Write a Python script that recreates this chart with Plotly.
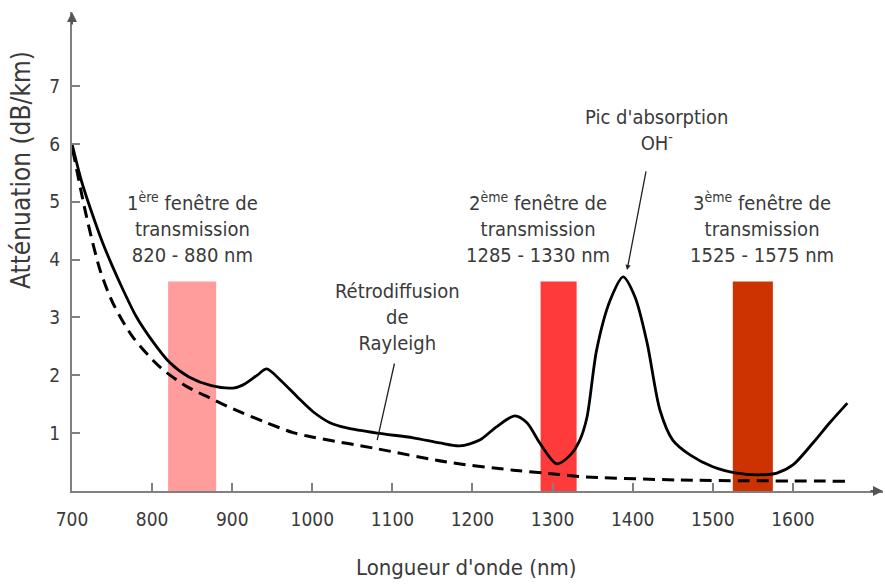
import plotly.graph_objects as go

# ---- data ----
wl_total = [700, 712, 725, 738, 750, 763, 780, 800, 822, 846, 874, 901, 913, 931, 943, 960, 981,
            1001, 1022, 1043, 1081, 1126, 1159, 1184, 1209, 1230, 1253, 1268, 1284, 1305,
            1322, 1334, 1343, 1355, 1372, 1388, 1403, 1418, 1434, 1450, 1472, 1500, 1530,
            1555, 1580, 1600, 1625, 1646, 1668]
att_total = [6.00, 5.35, 4.80, 4.30, 3.90, 3.50, 3.02, 2.60, 2.22, 1.97, 1.82, 1.78, 1.83, 2.00, 2.11, 1.92, 1.63,
             1.37, 1.18, 1.09, 1.00, 0.92, 0.83, 0.78, 0.88, 1.11, 1.30, 1.18, 0.83, 0.47,
             0.62, 0.88, 1.28, 2.44, 3.30, 3.70, 3.35, 2.56, 1.40, 0.88, 0.62, 0.42, 0.31,
             0.28, 0.31, 0.45, 0.83, 1.18, 1.52]

wl_rayleigh = [701, 718, 735, 751, 776, 810, 844, 872, 901, 943, 976, 1001, 1081, 1168, 1251, 1305, 1334, 1459, 1665]
att_rayleigh = [5.89, 4.75, 3.82, 3.25, 2.66, 2.14, 1.80, 1.61, 1.42, 1.18, 1.01, 0.93, 0.73, 0.50, 0.36, 0.29, 0.25, 0.19, 0.17]

window_start = [820, 1285, 1525]
window_end = [880, 1330, 1575]
window_height = 3.62
window_colors = ["#FF9C9C", "#FF3A3A", "#CC3300"]
window_labels = [
    "1<sup>ère</sup> fenêtre de<br>transmission<br>820 - 880 nm",
    "2<sup>ème</sup> fenêtre de<br>transmission<br>1285 - 1330 nm",
    "3<sup>ème</sup> fenêtre de<br>transmission<br>1525 - 1575 nm",
]
window_label_x = [851, 1282, 1561]

x_ticks = [700, 800, 900, 1000, 1100, 1200, 1300, 1400, 1500, 1600]
y_ticks = [1, 2, 3, 4, 5, 6, 7]

FONT = "DejaVu Sans Condensed, Liberation Sans Narrow, DejaVu Sans, sans-serif"
TXT = "#3a3a3a"
AXC = "#808080"

L, R, T, B = 72, 2, 12, 94
W, H = 885, 585
pw, ph = W - L - R, H - T - B


def px_x(p):
    return (p - L) / pw


def px_y(p):
    return (H - B - p) / ph


fig = go.Figure()
fig.add_trace(go.Scatter(x=wl_rayleigh, y=att_rayleigh, mode="lines",
                         line=dict(color="black", width=3, dash="12px,7px", shape="spline", smoothing=0.8),
                         showlegend=False, hoverinfo="skip"))
fig.add_trace(go.Scatter(x=wl_total, y=att_total, mode="lines",
                         line=dict(color="black", width=2.8, shape="spline", smoothing=0.8),
                         showlegend=False, hoverinfo="skip"))

for x0, x1, c in zip(window_start, window_end, window_colors):
    fig.add_shape(type="rect", xref="x", yref="y", x0=x0, x1=x1, y0=0, y1=window_height,
                  fillcolor=c, line=dict(width=0), layer="below")

for lab, lx in zip(window_labels, window_label_x):
    fig.add_annotation(x=lx, y=4.55, xref="x", yref="y", text=lab, showarrow=False,
                       font=dict(family=FONT, size=20, color=TXT), align="center")

# Rayleigh label + leader
fig.add_annotation(x=1106, y=3.01, xref="x", yref="y", text="Rétrodiffusion<br>de<br>Rayleigh",
                   showarrow=False, font=dict(family=FONT, size=20, color=TXT), align="center")
fig.add_annotation(x=1081, y=0.88, ax=1103, ay=2.23, xref="x", yref="y", axref="x", ayref="y",
                   text="", showarrow=True, arrowhead=0, arrowwidth=1.3, arrowcolor="#222")

# OH peak label + arrow
fig.add_annotation(x=1430, y=6.24, xref="x", yref="y", text="Pic d'absorption<br>OH<sup>-</sup>",
                   showarrow=False, font=dict(family=FONT, size=20, color=TXT), align="center")
fig.add_annotation(x=1393, y=3.82, ax=1417, ay=5.55, xref="x", yref="y", axref="x", ayref="y",
                   text="", showarrow=True, arrowhead=2, arrowsize=0.8, arrowwidth=1.3, arrowcolor="#222")

# axis titles
fig.add_annotation(x=px_x(21), y=px_y(170), xref="paper", yref="paper", text="Atténuation (dB/km)",
                   xanchor="center", yanchor="middle",
                   showarrow=False, textangle=-90, font=dict(family=FONT, size=26, color=TXT))
fig.add_annotation(x=px_x(466), y=px_y(567), xref="paper", yref="paper", text="Longueur d'onde (nm)",
                   xanchor="center", yanchor="middle",
                   showarrow=False, font=dict(family=FONT, size=22, color=TXT))

# axis arrowheads
fig.add_annotation(x=0, y=1, xref="paper", yref="paper", ax=0, ay=14, text="", showarrow=True,
                   arrowhead=2, arrowsize=1, arrowwidth=2, arrowcolor="#555")
fig.add_annotation(x=1, y=0, xref="paper", yref="paper", ax=-14, ay=0, text="", showarrow=True,
                   arrowhead=2, arrowsize=1, arrowwidth=2, arrowcolor="#555")

fig.update_layout(
    width=W, height=H,
    margin=dict(l=L, r=R, t=T, b=B),
    plot_bgcolor="white", paper_bgcolor="white",
    xaxis=dict(range=[700, 1712.5], tickvals=x_ticks, showgrid=False, zeroline=False,
               showline=True, linecolor=AXC, linewidth=2, ticks="inside", ticklen=8,
               tickcolor=AXC, tickwidth=1.5, ticklabelstandoff=10,
               tickfont=dict(family=FONT, size=19, color=TXT)),
    yaxis=dict(range=[0, 8.28], tickvals=y_ticks, showgrid=False, zeroline=False,
               showline=True, linecolor=AXC, linewidth=2, ticks="inside", ticklen=8,
               tickcolor=AXC, tickwidth=1.5, ticklabelstandoff=6,
               tickfont=dict(family=FONT, size=19, color=TXT)),
)

fig.write_html("out.html", config={"displayModeBar": False},
               post_script="document.body.style.margin='0';document.body.style.overflow='hidden';")
